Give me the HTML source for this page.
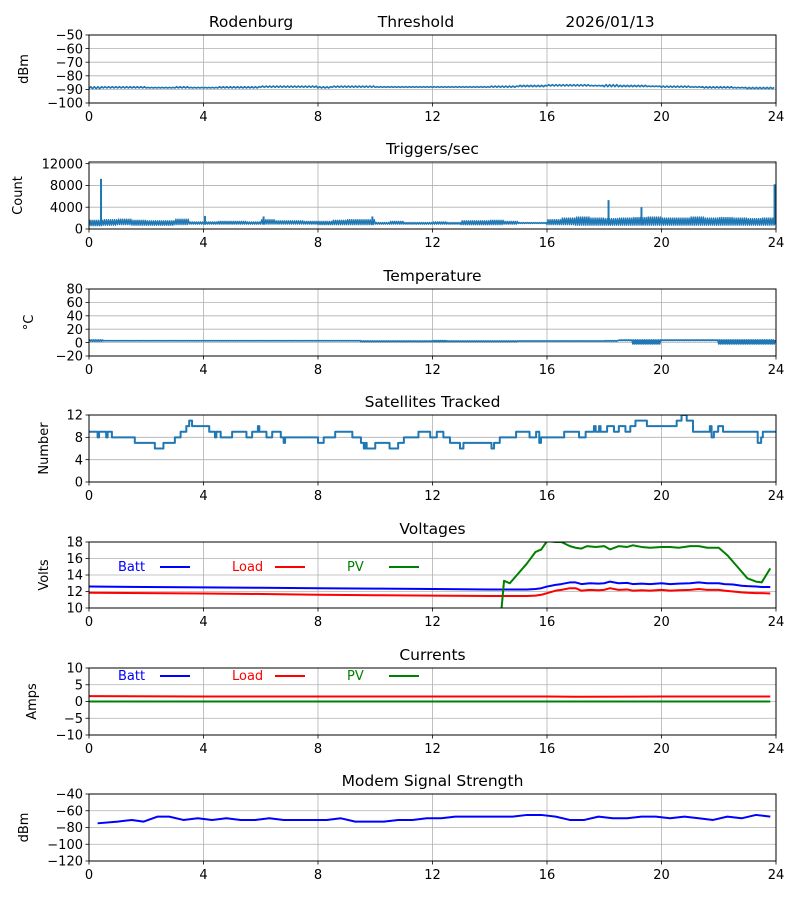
<!DOCTYPE html>
<html><head><meta charset="utf-8">
<style>
body{margin:0;background:#fff;}
svg text{font-family:"DejaVu Sans","Liberation Sans",sans-serif;fill:#000;}
</style></head>
<body>
<svg id="fig" width="800" height="900" xmlns="http://www.w3.org/2000/svg">
<rect width="800" height="900" fill="#fff"/>
<text x="251" y="27" font-size="15.5" text-anchor="middle">Rodenburg</text>
<text x="416" y="27" font-size="15.5" text-anchor="middle">Threshold</text>
<text x="610" y="27" font-size="15.5" text-anchor="middle">2026/01/13</text>
</svg>
<script>
// ---------- data ----------
const xTicks = [0,4,8,12,16,20,24];
const halfHours = [0,0.5,1,1.5,2,2.5,3,3.5,4,4.5,5,5.5,6,6.5,7,7.5,8,8.5,9,9.5,10,10.5,11,11.5,12,12.5,13,13.5,14,14.5,15,15.5,16,16.5,17,17.5,18,18.5,19,19.5,20,20.5,21,21.5,22,22.5,23,23.5];
const thrLow  = [-89.5,-89,-89,-89,-89,-89,-89,-89,-89,-89,-89,-89,-88.5,-88.5,-88.5,-88.5,-89,-88.5,-88.5,-88.5,-88.5,-88.5,-88.5,-88.5,-88.5,-88.5,-88.5,-88.5,-88.5,-88.5,-88,-88,-87.5,-87.5,-87.5,-87.5,-88,-88,-88,-88,-88.5,-88.5,-88.5,-89,-89,-89,-89.5,-89.5];
const thrHigh = [-88,-88,-88,-88,-88.5,-88.5,-88,-88.5,-88.5,-88,-88,-88,-87.5,-87.5,-87.5,-87.5,-88,-87.5,-87.5,-87.5,-88,-88,-88,-88,-88,-88,-88,-88,-87.5,-87.5,-87,-87,-86.5,-86.5,-86.5,-87,-86.5,-87,-87,-87.5,-87.5,-87.5,-88,-88,-88,-88.5,-88.5,-88.5];
const trigLow  = [600,700,800,700,700,700,800,900,900,900,900,900,900,900,900,900,800,800,800,800,900,900,900,900,900,900,800,800,800,900,1000,1000,800,800,700,700,700,700,700,700,700,700,700,700,700,700,700,700];
const trigHigh = [1600,1700,1800,1600,1500,1500,1800,1300,1300,1400,1400,1300,1700,1500,1500,1400,1400,1600,1700,1700,1200,1400,1200,1200,1300,1200,1500,1500,1600,1400,1200,1200,1700,2000,2200,2000,1900,2000,2100,2200,2000,2000,2200,2000,2100,2000,1900,2000];
const trigSpikeT = [0.42,4.05,6.1,9.9,18.15,19.3,23.95];
const trigSpikeV = [9200,2400,2300,2300,5300,4000,8200];
const tempLow  = [2,2.5,2.5,2.5,2.5,2.5,2.5,2.5,2.5,2.5,2.5,2.5,2.5,2.5,2.5,2.5,2.5,2.5,2.5,1.5,1.5,1.5,1.5,1.5,1.5,1.5,1.5,1.5,1.5,1.5,2,2,2,2,2,2,2,3,-2,-2,3,3,3,3,-2,-2,-2,-2];
const tempHigh = [4,3,3,3,3,3,3,3,3,3,3,3,3,3,3,3,3,3,3,2.5,2.5,2.5,2.5,2.5,3,2.5,2.5,2.5,2.5,2.5,2.5,2.5,2.5,2.5,2.5,2.5,3,4,4,4,4,4,4,4,4,4,4,4];
const satT = [0,0.3,0.35,0.6,0.65,0.8,1.6,2.3,2.6,3.0,3.2,3.4,3.5,3.6,4.2,4.4,4.45,4.6,5.0,5.5,5.7,5.9,5.95,6.2,6.4,6.7,6.8,6.85,8.0,8.2,8.6,9.2,9.5,9.6,9.65,9.7,10.0,10.5,10.8,11.0,11.51,11.92,12.15,12.38,12.61,12.96,13.08,14.06,14.15,14.35,14.92,15.39,15.62,15.73,15.79,15.85,16.6,17.12,17.35,17.64,17.7,17.82,17.87,18.1,18.34,18.51,18.74,18.91,19.09,19.49,20.53,20.7,20.88,21.1,21.69,21.75,21.83,21.98,22.15,23.36,23.48,23.54,24];
const satV = [9,8,9,8,9,8,7,6,7,8,9,10,11,10,9,8,9,8,9,8,9,10,9,8,9,8,7,8,7,8,9,8,7,6,7,6,7,6,7,8,9,8,9,8,7,6,7,6,7,8,9,8,9,7,8,8,9,8,9,10,9,10,9,10,9,10,9,10,11,10,11,12,11,9,10,8,9,10,9,7,8,9,9];
const voltT = [0,2,4,6,8,10,12,14,14.45,14.5,14.7,15,15.3,15.6,15.8,16,16.3,16.5,16.8,17,17.2,17.5,17.8,18,18.2,18.5,18.8,19,19.3,19.6,20,20.3,20.6,21,21.3,21.6,22,22.2,22.5,22.8,23,23.3,23.5,23.8];
const battV = [12.6,12.55,12.5,12.45,12.4,12.35,12.3,12.25,12.25,12.25,12.25,12.25,12.25,12.3,12.4,12.6,12.8,12.9,13.1,13.1,12.9,13,12.95,13,13.2,13,13.05,12.9,12.95,12.9,13,12.9,12.95,13,13.1,13,13,12.9,12.85,12.7,12.65,12.6,12.55,12.55];
const loadV = [11.85,11.8,11.75,11.7,11.6,11.55,11.5,11.45,11.45,11.45,11.45,11.45,11.45,11.5,11.6,11.8,12.1,12.2,12.4,12.4,12.1,12.2,12.15,12.2,12.4,12.2,12.25,12.1,12.15,12.1,12.2,12.1,12.15,12.2,12.3,12.2,12.2,12.1,12,11.9,11.85,11.8,11.8,11.75];
const pvT = [14.4,14.5,14.7,15,15.3,15.6,15.8,16,16.3,16.5,16.8,17,17.2,17.4,17.7,18,18.2,18.5,18.8,19,19.3,19.6,20,20.3,20.6,21,21.3,21.6,22,22.3,22.7,23,23.3,23.5,23.8];
const pvV = [9.5,13.3,13,14.2,15.4,16.8,17.1,18.1,18,18,17.5,17.3,17.2,17.5,17.4,17.5,17.1,17.5,17.4,17.6,17.4,17.3,17.4,17.4,17.3,17.5,17.5,17.3,17.3,16.4,14.8,13.6,13.2,13.1,14.8];
const curT = [0,4,8,12,16,17,20,24];
const loadA = [1.6,1.5,1.5,1.5,1.5,1.4,1.5,1.5];
const pvA = [0,0,0,0,0,0,0,0];
const modemT = [0.3,1,1.5,1.9,2.4,2.8,3.3,3.8,4.3,4.8,5.3,5.8,6.3,6.8,7.3,8.3,8.8,9.3,9.8,10.3,10.8,11.3,11.8,12.3,12.8,13.3,14.3,14.8,15.3,15.8,16.3,16.8,17.3,17.8,18.3,18.8,19.3,19.8,20.3,20.8,21.3,21.8,22.3,22.8,23.3,23.8];
const modemV = [-75,-73,-71,-73,-67,-67,-71,-69,-71,-69,-71,-71,-69,-71,-71,-71,-69,-73,-73,-73,-71,-71,-69,-69,-67,-67,-67,-67,-65,-65,-67,-71,-71,-67,-69,-69,-67,-67,-69,-67,-69,-71,-67,-69,-65,-67];

// ---------- drawing ----------
const NS="http://www.w3.org/2000/svg";
const svg=document.getElementById('fig');
const X0=89,X1=776;
const FS=13;
function el(tag,attrs,parent){const e=document.createElementNS(NS,tag);for(const k in attrs)e.setAttribute(k,attrs[k]);(parent||svg).appendChild(e);return e;}
function xs(t){return X0+(t/24)*(X1-X0);}

function makeAxis(name,top,bot,ymin,ymax,yTicks,title,ylabel,ylabX){
  const g=el('g',{});
  
  
  const ys=v=>bot-(v-ymin)/(ymax-ymin)*(bot-top);
  xTicks.forEach(t=>{
    const l=el('line',{x1:xs(t),x2:xs(t),y1:top,y2:bot,stroke:'#b0b0b0','stroke-width':0.8},g);
    
    
  });
  yTicks.forEach(v=>{
    const y=ys(v);
    const l=el('line',{x1:X0,x2:X1,y1:y,y2:y,stroke:'#b0b0b0','stroke-width':0.8},g);
    
    
    el('line',{x1:X0-3.5,x2:X0,y1:y,y2:y,stroke:'#000','stroke-width':0.8},g);
    const tx=el('text',{x:X0-6,y:y+4.7,'font-size':FS,'text-anchor':'end'},g);
    tx.textContent=(v<0?'\u2212'+(-v):String(v));
    
    
  });
  xTicks.forEach(t=>{
    el('line',{x1:xs(t),x2:xs(t),y1:bot,y2:bot+3.5,stroke:'#000','stroke-width':0.8},g);
    const tx=el('text',{x:xs(t),y:bot+18,'font-size':FS,'text-anchor':'middle'},g);
    tx.textContent=String(t);
    
    
  });
  if(title){
    const tt=el('text',{x:(X0+X1)/2,y:top-8,'font-size':15.5,'text-anchor':'middle'},g);
    tt.textContent=title;
    
    
  }
  const yl=el('text',{x:ylabX,y:(top+bot)/2,'font-size':FS,'text-anchor':'middle',transform:`rotate(-90 ${ylabX} ${(top+bot)/2})`},g);
  yl.textContent=ylabel;
  
  
  const clipId='c'+name;
  const cp=el('clipPath',{id:clipId},g);
  el('rect',{x:X0,y:top,width:X1-X0,height:bot-top},cp);
  const data=el('g',{'clip-path':`url(#${clipId})`},g);
  const frame=()=>{const r=el('rect',{x:X0,y:top,width:X1-X0,height:bot-top,fill:'none',stroke:'#000','stroke-width':1},g);
    
    };
  return {g,data,ys,frame};
}
function poly(ax,pts,color,w,name){
  const p=el('polyline',{points:pts.map(p=>p[0].toFixed(2)+','+p[1].toFixed(2)).join(' '),fill:'none',stroke:color,'stroke-width':w,'stroke-linejoin':'round'},ax.data);
  
  
  return p;
}
function band(ax,low,high,teeth){
  const pts=[];
  halfHours.forEach((t,i)=>{
    for(let k=0;k<teeth;k++){
      const tt=t+0.5*k/teeth;
      pts.push([xs(tt),ax.ys(k%2?high[i]:low[i])]);
    }
  });
  return pts;
}
function legend(ax,y){
  [['Batt','#0000ff',118,160],['Load','#ff0000',232,275],['PV','#008000',347,389]].forEach(([n,c,tx,lx])=>{
    const t=el('text',{x:tx,y:y+5,'font-size':FS,fill:c},ax.g);
    t.textContent=n;t.style.fill=c;
    
    
    const l=el('line',{x1:lx,x2:lx+30,y1:y+1,y2:y+1,stroke:c,'stroke-width':2},ax.g);
    
    
  });
}

// 1 Threshold
let a=makeAxis('threshold',35,103,-100,-50,[-100,-90,-80,-70,-60,-50],null,'dBm',28);
poly(a,band(a,thrLow,thrHigh,8),'#1f77b4',1.6,'threshold-line');
a.frame();
// 2 Triggers
a=makeAxis('triggers',162,229,0,12300,[0,4000,8000,12000],'Triggers/sec','Count',22);
poly(a,band(a,trigLow,trigHigh,14),'#1f77b4',1.4,'triggers-line');
trigSpikeT.forEach((t,i)=>{
  const s=el('line',{x1:xs(t),x2:xs(t),y1:a.ys(800),y2:a.ys(trigSpikeV[i]),stroke:'#1f77b4','stroke-width':2},a.data);
  
  
});
a.frame();
// 3 Temperature
a=makeAxis('temperature',289,356,-20,80,[-20,0,20,40,60,80],'Temperature','\u00b0C',33);
poly(a,band(a,tempLow,tempHigh,16),'#1f77b4',1.6,'temperature-line');
a.frame();
// 4 Satellites
a=makeAxis('satellites',415,482,0,12,[0,4,8,12],'Satellites Tracked','Number',48);
{const pts=[];satT.forEach((t,i)=>{if(i>0)pts.push([xs(t),a.ys(satV[i-1])]);pts.push([xs(t),a.ys(satV[i])]);});
poly(a,pts,'#1f77b4',2,'satellites-line');}
a.frame();
// 5 Voltages
a=makeAxis('voltages',542,608,10,18,[10,12,14,16,18],'Voltages','Volts',48);
poly(a,voltT.map((t,i)=>[xs(t),a.ys(battV[i])]),'#0000ff',2,'batt-voltage-line');
poly(a,voltT.map((t,i)=>[xs(t),a.ys(loadV[i])]),'#ff0000',2,'load-voltage-line');
poly(a,pvT.map((t,i)=>[xs(t),a.ys(pvV[i])]),'#008000',2,'pv-voltage-line');
legend(a,566);
a.frame();
// 6 Currents
a=makeAxis('currents',668,735,-10,10,[-10,-5,0,5,10],'Currents','Amps',36);
poly(a,curT.map((t,i)=>[xs(Math.min(t,23.8)),a.ys(pvA[i])]),'#008000',2,'pv-current-line');
poly(a,curT.map((t,i)=>[xs(Math.min(t,23.8)),a.ys(loadA[i])]),'#ff0000',2,'load-current-line');
legend(a,675);
a.frame();
// 7 Modem
a=makeAxis('modem',794,861,-120,-40,[-120,-100,-80,-60,-40],'Modem Signal Strength','dBm',28);
poly(a,modemT.map((t,i)=>[xs(t),a.ys(modemV[i])]),'#0000ff',2,'modem-signal-line');
a.frame();
</script>
</body></html>
